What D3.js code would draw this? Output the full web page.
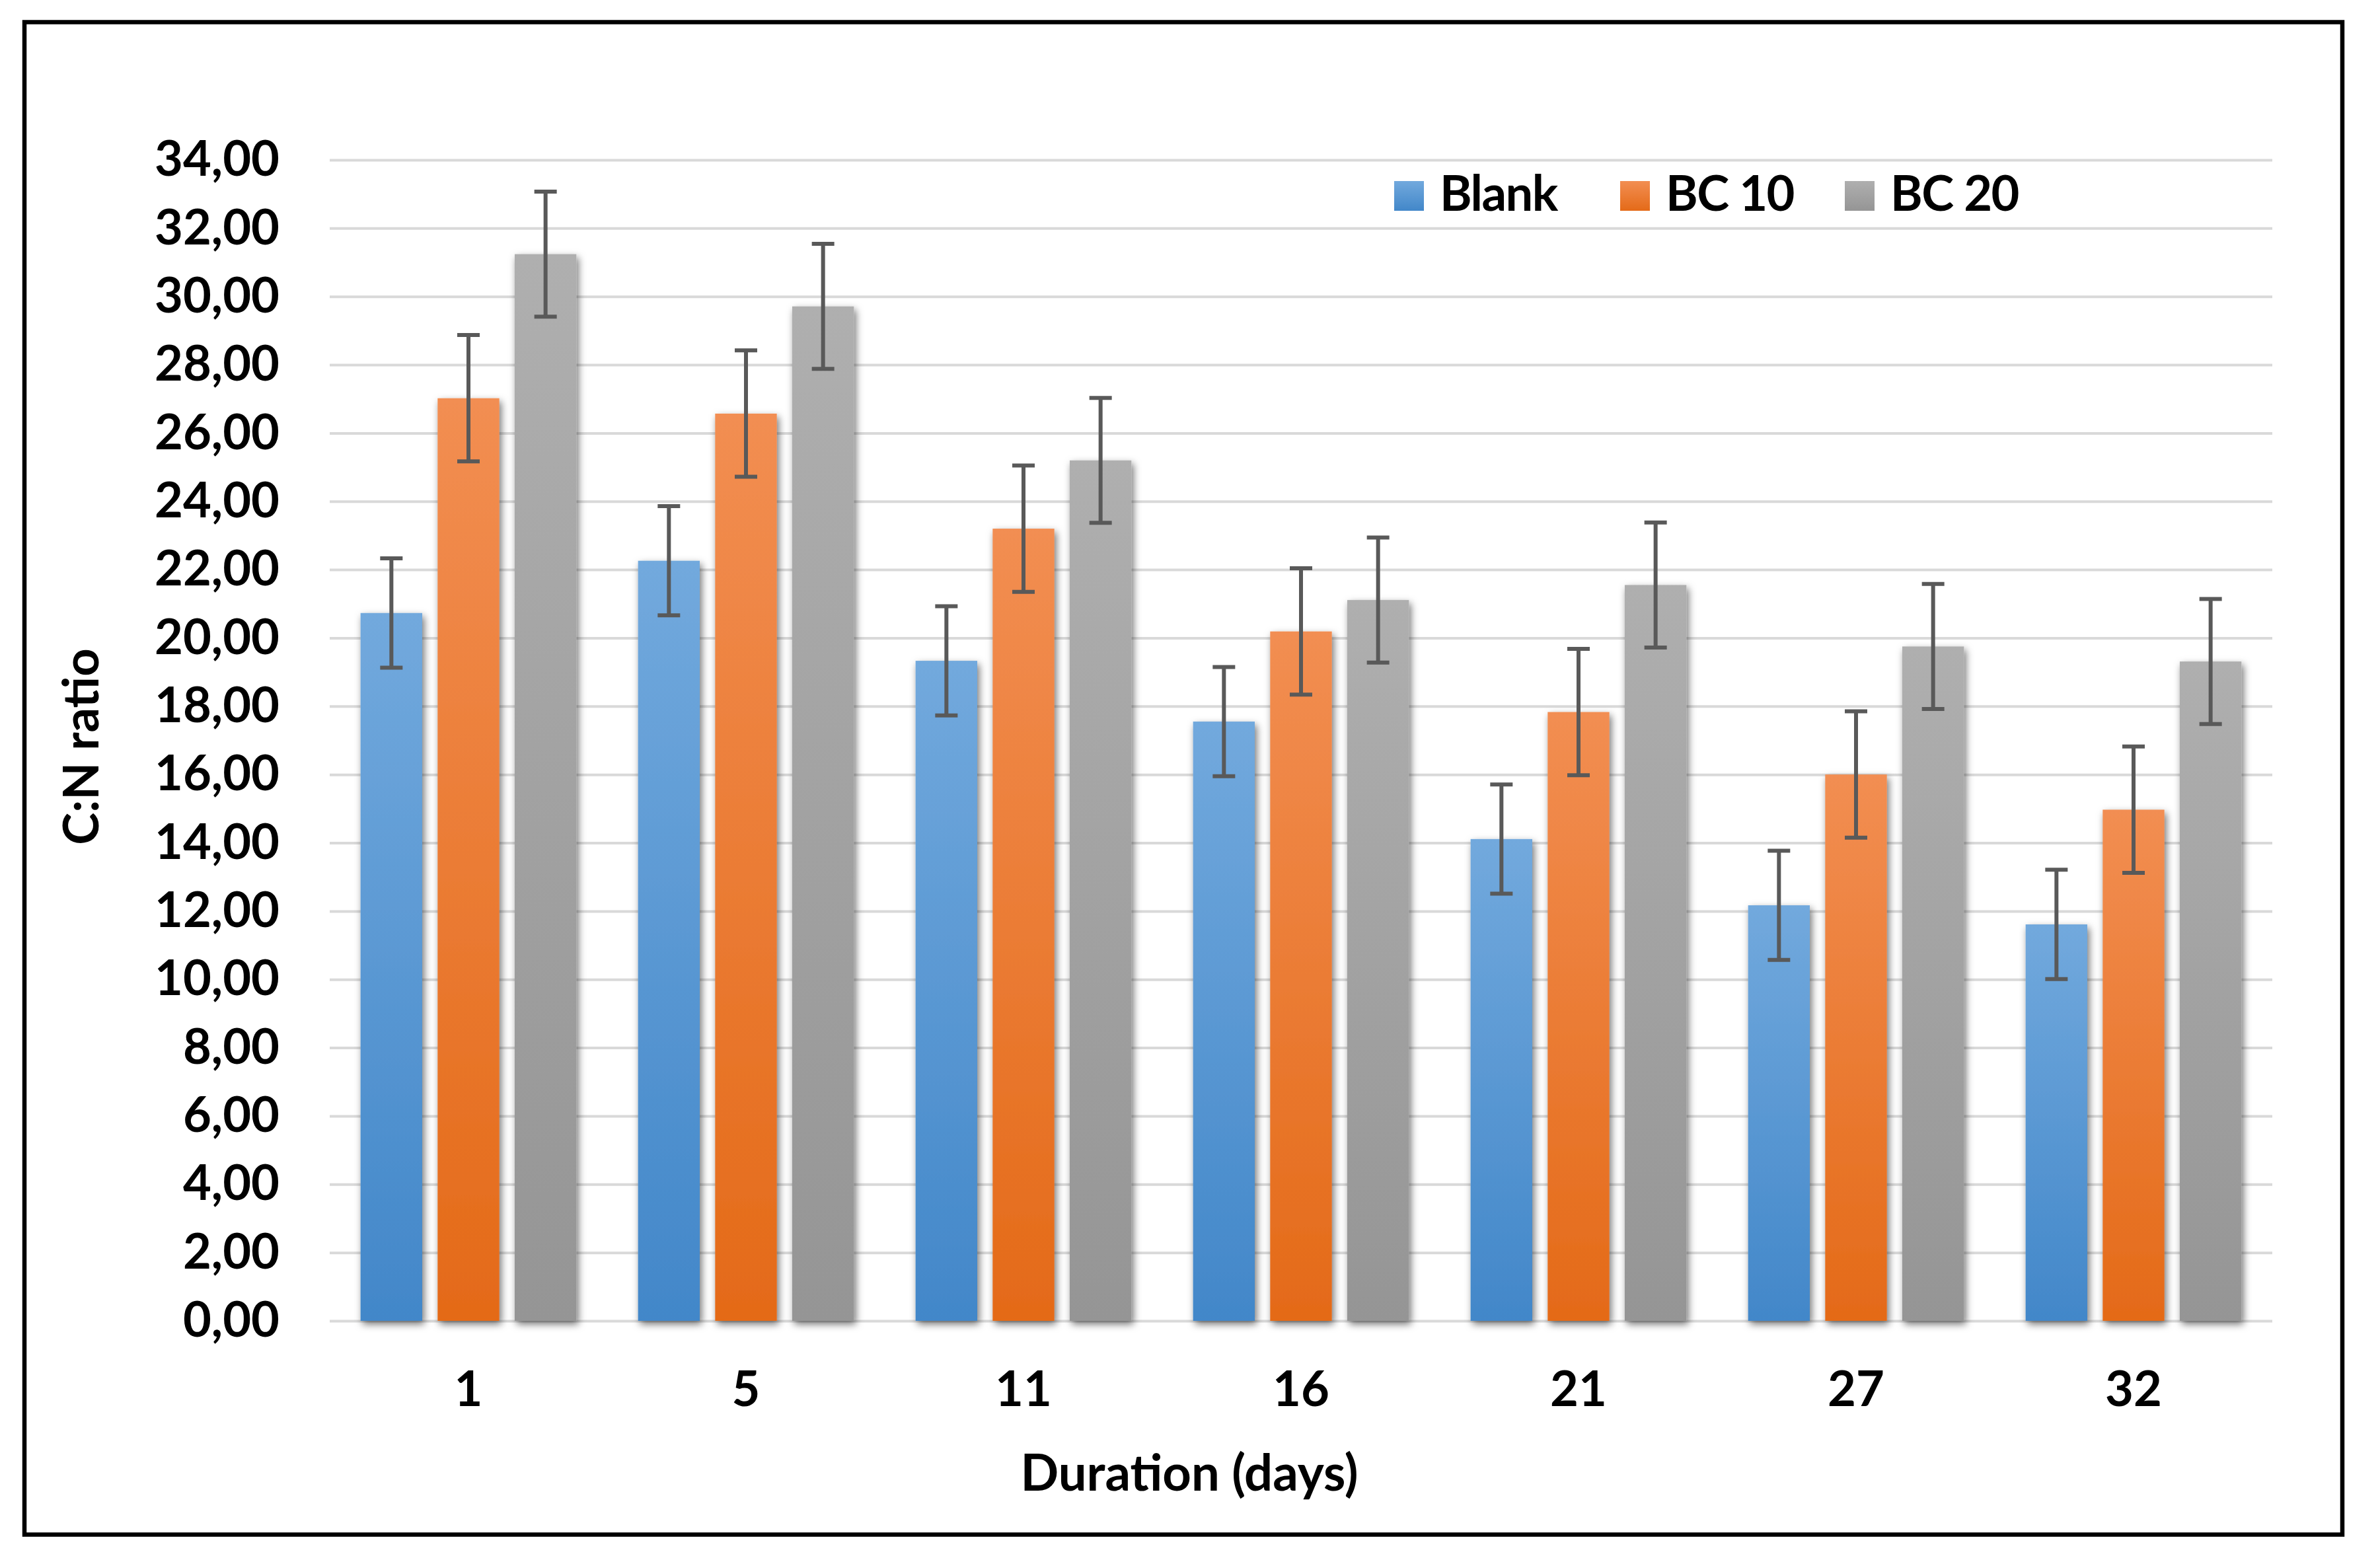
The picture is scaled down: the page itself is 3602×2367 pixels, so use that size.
<!DOCTYPE html>
<html>
<head>
<meta charset="utf-8">
<script src="https://cdnjs.cloudflare.com/ajax/libs/d3/7.8.5/d3.min.js"></script>
<style>
  html, body { margin: 0; padding: 0; background: white; }
  svg { display: block; }
  text { font-family: Lato, "Liberation Sans", Arial, sans-serif; font-weight: bold; fill: black; }
</style>
</head>
<body>
<script>
const width = 3602;
const height = 2367;
const margin = { top: 241, right: 163, bottom: 368, left: 499 };

// data
const days = ["1", "5", "11", "16", "21", "27", "32"];
const seriesNames = ["Blank", "BC 10", "BC 20"];
const blank = [20.73, 22.26, 19.33, 17.55, 14.11, 12.17, 11.61];
const bc10 = [27.02, 26.57, 23.20, 20.19, 17.83, 16.00, 14.97];
const bc20 = [31.24, 29.71, 25.20, 21.11, 21.55, 19.75, 19.31];
const blankErr = [1.60, 1.60, 1.60, 1.60, 1.60, 1.60, 1.60];
const bc10Err = [1.85, 1.85, 1.85, 1.85, 1.85, 1.85, 1.85];
const bc20Err = [1.83, 1.83, 1.83, 1.83, 1.83, 1.83, 1.83];
const yTicks = [0, 2, 4, 6, 8, 10, 12, 14, 16, 18, 20, 22, 24, 26, 28, 30, 32, 34];

const seriesValues = [blank, bc10, bc20];
const seriesErrors = [blankErr, bc10Err, bc20Err];
const colorsTop = ["#72a9dd", "#f28e52", "#afafaf"];
const colorsBottom = ["#4287c9", "#e46a18", "#959595"];

const rows = [];
days.forEach((d, i) => {
  seriesNames.forEach((s, j) => {
    rows.push({ day: d, series: s, idx: j, value: seriesValues[j][i], err: seriesErrors[j][i] });
  });
});

const svg = d3.select("body").append("svg")
  .attr("width", width)
  .attr("height", height)
  .attr("viewBox", [0, 0, width, height]);

const defs = svg.append("defs");

seriesNames.forEach((s, j) => {
  const g = defs.append("linearGradient")
    .attr("id", "grad" + j)
    .attr("x1", 0).attr("y1", 0).attr("x2", 0).attr("y2", 1);
  g.append("stop").attr("offset", "0%").attr("stop-color", colorsTop[j]);
  g.append("stop").attr("offset", "100%").attr("stop-color", colorsBottom[j]);
});

const shadow = defs.append("filter")
  .attr("id", "shadow")
  .attr("x", "-40%").attr("y", "-10%")
  .attr("width", "180%").attr("height", "120%");
shadow.append("feDropShadow")
  .attr("dx", 3)
  .attr("dy", 5)
  .attr("stdDeviation", 6)
  .attr("flood-color", "#000")
  .attr("flood-opacity", 0.55);

// outer frame
svg.append("rect")
  .attr("x", 37).attr("y", 33.5)
  .attr("width", 3508).attr("height", 2289)
  .attr("fill", "white")
  .attr("stroke", "black")
  .attr("stroke-width", 6.5);

const x0 = d3.scaleBand()
  .domain(days)
  .range([margin.left, width - margin.right]);

const x1 = d3.scaleBand()
  .domain(seriesNames)
  .range([0, x0.bandwidth()])
  .paddingInner(0.2)
  .paddingOuter(0.4);

const y = d3.scaleLinear()
  .domain([0, 34])
  .range([1999, 242]);

const fmt = d3.formatLocale({ decimal: ",", thousands: ".", grouping: [3], currency: ["", ""] }).format(".2f");

// y axis with gridlines
const yAxis = svg.append("g")
  .attr("transform", `translate(${margin.left}, 0)`)
  .call(d3.axisLeft(y)
    .tickValues(yTicks)
    .tickFormat(fmt)
    .tickSize(-(width - margin.right - margin.left))
    .tickPadding(76));

yAxis.select(".domain").remove();
yAxis.selectAll(".tick line")
  .attr("stroke", "#d9d9d9")
  .attr("stroke-width", 4);
yAxis.selectAll(".tick text")
  .attr("font-size", 74)
  .attr("font-family", null)
  .attr("fill", "black");

// x axis
const xAxis = svg.append("g")
  .attr("transform", `translate(0, ${y(0)})`)
  .call(d3.axisBottom(x0).tickSize(0).tickPadding(0));

xAxis.select(".domain").remove();
xAxis.selectAll(".tick text")
  .attr("font-size", 74)
  .attr("font-family", null)
  .attr("fill", "black")
  .attr("dy", null)
  .attr("y", 129);

// bars
svg.append("g")
  .selectAll("rect")
  .data(rows)
  .join("rect")
  .attr("x", d => x0(d.day) + x1(d.series))
  .attr("y", d => y(d.value))
  .attr("width", x1.bandwidth())
  .attr("height", d => y(0) - y(d.value))
  .attr("fill", d => `url(#grad${d.idx})`)
  .attr("filter", "url(#shadow)");

// error bars
const capW = 34;
const err = svg.append("g")
  .attr("stroke", "#595959")
  .attr("stroke-width", 6)
  .selectAll("g")
  .data(rows)
  .join("g")
  .attr("transform", d => `translate(${x0(d.day) + x1(d.series) + x1.bandwidth() / 2}, 0)`);

err.append("line")
  .attr("y1", d => y(d.value + d.err))
  .attr("y2", d => y(d.value - d.err));
err.append("line")
  .attr("x1", -capW / 2).attr("x2", capW / 2)
  .attr("y1", d => y(d.value + d.err))
  .attr("y2", d => y(d.value + d.err));
err.append("line")
  .attr("x1", -capW / 2).attr("x2", capW / 2)
  .attr("y1", d => y(d.value - d.err))
  .attr("y2", d => y(d.value - d.err));

// legend
const legendX = [2110, 2452, 2792];
const legend = svg.append("g")
  .selectAll("g")
  .data(seriesNames)
  .join("g")
  .attr("transform", (d, i) => `translate(${legendX[i]}, 319)`);

legend.append("rect")
  .attr("x", 0).attr("y", -45)
  .attr("width", 45).attr("height", 45)
  .attr("fill", (d, i) => `url(#grad${i})`);

legend.append("text")
  .attr("x", 69)
  .attr("y", 0)
  .attr("font-size", 74)
  .attr("letter-spacing", -1.5)
  .text(d => d);

// axis titles
svg.append("text")
  .attr("x", 1800)
  .attr("y", 2256)
  .attr("text-anchor", "middle")
  .attr("font-size", 76)
  .text("Duration (days)");

svg.append("text")
  .attr("transform", "translate(149, 1130) rotate(-90)")
  .attr("text-anchor", "middle")
  .attr("font-size", 74)
  .text("C:N ratio");
</script>
</body>
</html>
